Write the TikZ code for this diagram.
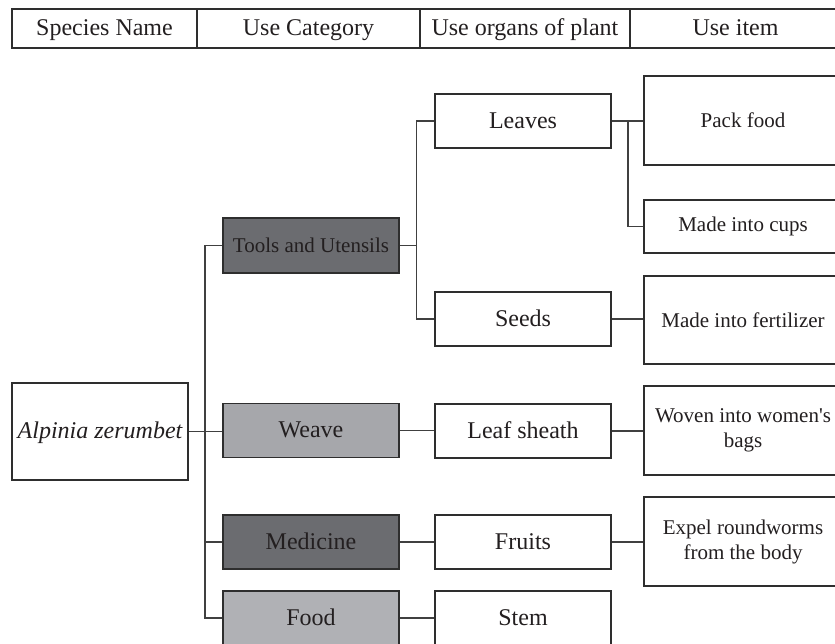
\documentclass[tikz,border=0pt]{standalone}
\usepackage{fontspec}
\setmainfont{Liberation Serif}
\usetikzlibrary{positioning}

\definecolor{edge}{HTML}{2E2E2E}
\definecolor{wire}{HTML}{404040}
\definecolor{ink}{HTML}{231F20}
\definecolor{darkcat}{HTML}{6B6C70}
\definecolor{lightcat}{HTML}{A6A7AB}
\definecolor{palecat}{HTML}{B0B1B5}

\tikzset{
  frame/.style={draw=edge, line width=1.4pt, fill=white, text=ink, inner sep=0pt,
              align=center},
  box/.style={frame, minimum width=176pt, minimum height=54pt,
              text height=14.6pt, text depth=0pt,
              font=\fontsize{24}{28}\selectfont},
  headcell/.style={draw=edge, line width=1.4pt, text=ink, inner sep=0pt,
              minimum height=39pt, text height=14.6pt, text depth=0pt,
              font=\fontsize{24}{28}\selectfont},
  itembox/.style={frame, minimum width=198pt, minimum height=89pt,
              font=\fontsize{21}{25}\selectfont},
  wire/.style={draw=wire, line width=1.4pt},
}

\begin{document}
\begin{tikzpicture}[x=1pt, y=-1pt]
\useasboundingbox (0,0) rectangle (835,643);

% header row
\node[headcell, minimum width=185pt] (hSpecies) at (104.5,28.5) {Species Name};
\node[headcell, minimum width=223pt] (hCategory) at (308.5,28.5) {Use Category};
\node[headcell, minimum width=210pt] (hOrgan) at (525,28.5) {Use organs of plant};
\node[headcell, minimum width=211pt] (hItem) at (735.5,28.5) {Use item};

% species
\node[box, minimum height=97pt] (alp) at (100,431.5) {\itshape Alpinia zerumbet};

% use categories
\node[box, fill=darkcat, minimum height=55pt, text height=13.2pt,
      font=\fontsize{21}{25}\selectfont] (tools) at (311,245.5) {Tools and Utensils};
\node[box, fill=lightcat] (weave) at (311,430.5) {Weave};
\node[box, fill=darkcat] (med) at (311,542) {Medicine};
\node[box, fill=palecat] (food) at (311,618) {Food};

% plant organs
\node[box] (leaves) at (523,121) {Leaves};
\node[box] (seeds) at (523,319) {Seeds};
\node[box] (sheath) at (523,431) {Leaf sheath};
\node[box] (fruits) at (523,542) {Fruits};
\node[box] (stem) at (523,618) {Stem};

% use items
\node[itembox] (pack) at (743,120.5) {Pack food};
\node[itembox, minimum height=53pt] (cups) at (743,226.5) {Made into cups};
\node[itembox, minimum height=88pt] (fert) at (743,320) {Made into fertilizer};
\node[itembox] (woven) at (743,430.5) {Woven into women\textquotesingle s\\bags};
\node[itembox] (expel) at (743,541.5) {Expel roundworms\\from the body};

% branch points
\coordinate (trunk) at (205,0);
\coordinate (fork) at (416.5,0);
\coordinate (leafsplit) at (628,0);

% species to categories
\draw[wire] (tools.west) -- (tools.west -| trunk) |- (food.west);
\draw[wire] (alp.east) -- (alp.east -| weave.west);
\draw[wire] (med.west) -- (med.west -| trunk);

% categories to organs
\draw[wire] (tools.east) -- (tools.east -| fork);
\draw[wire] (leaves.west) -- (leaves.west -| fork) |- (seeds.west);
\draw[wire] (weave.east) -- (weave.east -| sheath.west);
\draw[wire] (med.east) -- (med.east -| fruits.west);
\draw[wire] (food.east) -- (food.east -| stem.west);

% organs to use items
\draw[wire] (leaves.east) -- (leaves.east -| pack.west);
\draw[wire] (leaves.east -| leafsplit) |- (cups.west);
\draw[wire] (seeds.east) -- (seeds.east -| fert.west);
\draw[wire] (sheath.east) -- (sheath.east -| woven.west);
\draw[wire] (fruits.east) -- (fruits.east -| expel.west);
\end{tikzpicture}
\end{document}
